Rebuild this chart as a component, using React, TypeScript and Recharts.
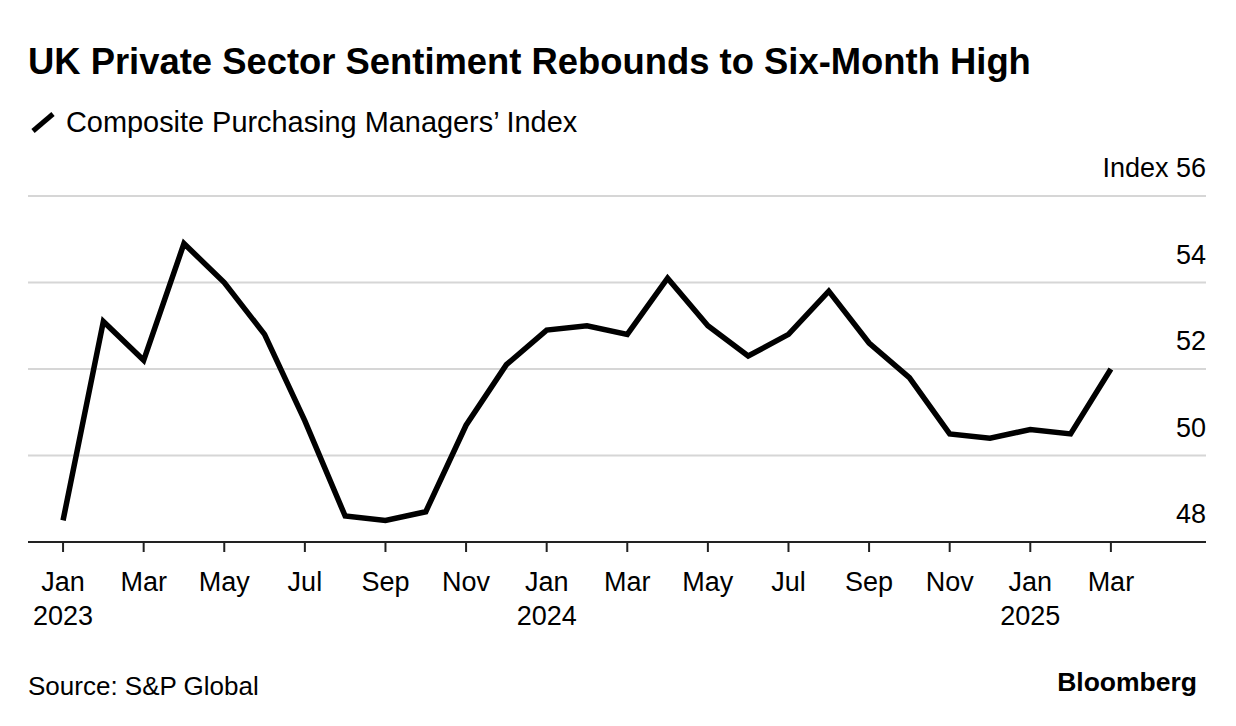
import React from 'react'
import { LineChart, Line, XAxis, YAxis, CartesianGrid } from 'recharts'

// monthly composite PMI, Jan 2023 .. Mar 2025
const monthLabels = [
  'Jan', 'Feb', 'Mar', 'Apr', 'May', 'Jun', 'Jul', 'Aug', 'Sep', 'Oct', 'Nov', 'Dec',
  'Jan', 'Feb', 'Mar', 'Apr', 'May', 'Jun', 'Jul', 'Aug', 'Sep', 'Oct', 'Nov', 'Dec',
  'Jan', 'Feb', 'Mar',
]
const yearLabels: Record<number, string> = { 0: '2023', 12: '2024', 24: '2025' }
const pmiValues = [
  48.5, 53.1, 52.2, 54.9, 54.0, 52.8, 50.8, 48.6, 48.5, 48.7, 50.7, 52.1,
  52.9, 53.0, 52.8, 54.1, 53.0, 52.3, 52.8, 53.8, 52.6, 51.8, 50.5, 50.4,
  50.6, 50.5, 52.0,
]
const xTicks = [0, 2, 4, 6, 8, 10, 12, 14, 16, 18, 20, 22, 24, 26]
const yTicks = [48, 50, 52, 54, 56]

const data = pmiValues.map((v, i) => ({ i, pmi: v }))

const FONT = '"Liberation Sans", Arial, sans-serif'

function MonthTick({ x, y, payload }: any) {
  const idx = payload.value as number
  return (
    <g>
      <text x={x} y={y + 37} textAnchor="middle" fontSize={27} fill="#000" fontFamily={FONT}>
        {monthLabels[idx]}
      </text>
      {yearLabels[idx] && (
        <text x={x} y={y + 71} textAnchor="middle" fontSize={27} fill="#000" fontFamily={FONT}>
          {yearLabels[idx]}
        </text>
      )}
    </g>
  )
}

function IndexTick({ x, y, payload }: any) {
  const v = payload.value as number
  return (
    <text x={x} y={y - 19} textAnchor="end" fontSize={27} fill="#000" fontFamily={FONT}>
      {v === 56 ? `Index ${v}` : v}
    </text>
  )
}

export default function App() {
  return (
    <div style={{ position: 'absolute', left: 0, top: 0, width: 1236, height: 726, background: '#fff', fontFamily: FONT, color: '#000' }}>
      <div style={{ position: 'absolute', left: 28, top: 44, fontSize: 36.4, lineHeight: 1, fontWeight: 700, whiteSpace: 'nowrap' }}>
        UK Private Sector Sentiment Rebounds to Six-Month High
      </div>
      <svg style={{ position: 'absolute', left: 28, top: 110 }} width={30} height={26}>
        <line x1={5} y1={21} x2={25} y2={4} stroke="#000" strokeWidth={5} />
      </svg>
      <div style={{ position: 'absolute', left: 66, top: 108, fontSize: 28.9, lineHeight: 1, whiteSpace: 'nowrap' }}>
        Composite Purchasing Managers’ Index
      </div>

      <div style={{ position: 'absolute', left: 0, top: 0 }}>
        <LineChart width={1236} height={726} data={data} margin={{ top: 196, right: 30, left: 28, bottom: 84 }}>
          <CartesianGrid vertical={false} stroke="#d6d6d6" strokeWidth={2} />
          <XAxis
            dataKey="i"
            type="number"
            domain={[-0.87, 28.36]}
            ticks={xTicks}
            interval={0}
            allowDataOverflow
            height={100}
            axisLine={{ stroke: '#222', strokeWidth: 2 }}
            tickLine={{ stroke: '#222', strokeWidth: 2 }}
            tickSize={10}
            tick={<MonthTick />}
          />
          <YAxis
            orientation="right"
            mirror
            domain={[48, 56]}
            ticks={yTicks}
            width={1}
            interval={0}
            axisLine={false}
            tickLine={false}
            tickSize={0}
            tickMargin={0}
            tick={<IndexTick />}
          />
          <Line
            type="linear"
            dataKey="pmi"
            stroke="#000"
            strokeWidth={5.5}
            dot={false}
            activeDot={false}
            isAnimationActive={false}
          />
        </LineChart>
      </div>

      <div style={{ position: 'absolute', left: 28, top: 673, fontSize: 26, lineHeight: 1, whiteSpace: 'nowrap' }}>
        Source: S&amp;P Global
      </div>
      <div style={{ position: 'absolute', right: 39, top: 669, fontSize: 26.5, lineHeight: 1, fontWeight: 700, whiteSpace: 'nowrap' }}>
        Bloomberg
      </div>
    </div>
  )
}
